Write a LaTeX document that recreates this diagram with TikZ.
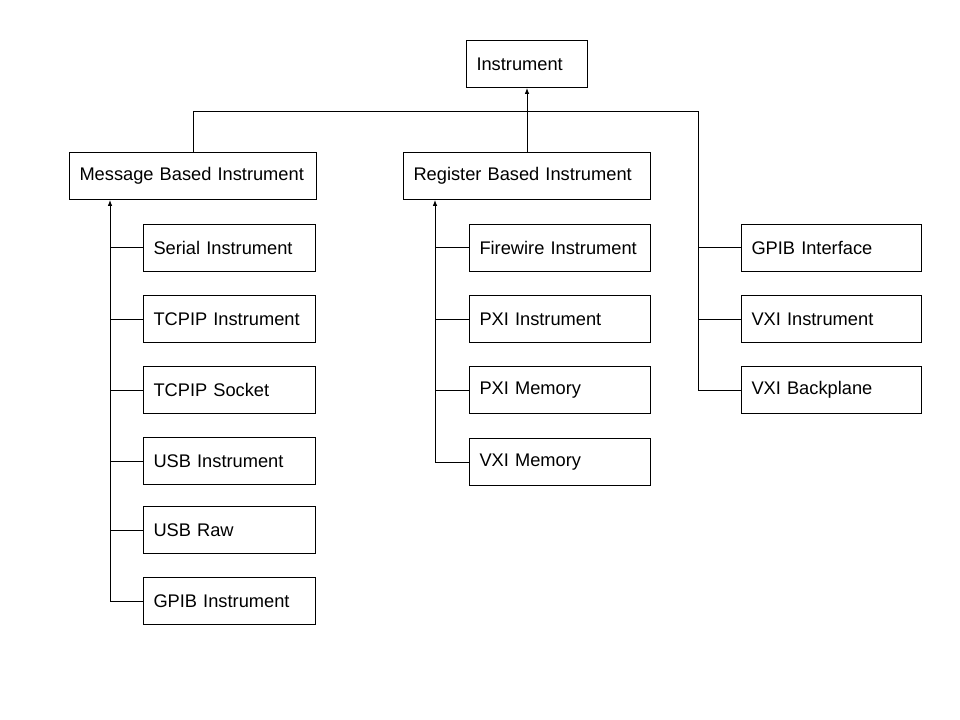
\documentclass[tikz,border=0pt]{standalone}
\usepackage{fontspec}
\setmainfont{Liberation Sans}
\usetikzlibrary{arrows.meta}

\tikzset{
  caja/.style={draw, anchor=north west, align=left, minimum height=35.25pt, inner xsep=7.5pt, inner ysep=0pt, font=\fontsize{13.7}{16}\selectfont},
  raiz/.style={caja, text width=75.75pt},
  base/.style={caja, text width=170.25pt},
  hijoa/.style={caja, text width=114pt},
  hijob/.style={caja, text width=120.75pt},
  hijoc/.style={caja, text width=120pt},
  flecha/.style={-{Latex[length=4.5pt,width=3.5pt]}},
}

\begin{document}
\begin{tikzpicture}[x=.75pt, y=-.75pt, line width=.75pt]
            \useasboundingbox (0,0) rectangle (960,720);
            \node[raiz] (inst) at (466,40) {Instrument};
            \node[base] (msg) at (69,152) {Message Based Instrument};
            \node[base] (reg) at (403,152) {Register Based Instrument};
            % columna izquierda
            \node[hijoa] (serial) at (143,224) {Serial Instrument};
            \node[hijoa] (tcpinst) at (143,295) {TCPIP Instrument};
            \node[hijoa] (tcpsock) at (143,366) {TCPIP Socket};
            \node[hijoa] (usbinst) at (143,437) {USB Instrument};
            \node[hijoa] (usbraw) at (143,506) {USB Raw};
            \node[hijoa] (gpibinst) at (143,577) {GPIB Instrument};
            % columna central
            \node[hijob] (fire) at (469,224) {Firewire Instrument};
            \node[hijob] (pxiinst) at (469,295) {PXI Instrument};
            \node[hijob] (pximem) at (469,366) {PXI Memory};
            \node[hijob] (vximem) at (469,438) {VXI Memory};
            % columna derecha
            \node[hijoc] (gpibif) at (741,224) {GPIB Interface};
            \node[hijoc] (vxiinst) at (741,295) {VXI Instrument};
            \node[hijoc] (vxiback) at (741,366) {VXI Backplane};
            % buses
            \coordinate (lbus) at (110,0);
            \coordinate (mbus) at (435,0);
            \coordinate (tbus) at (698,112);
            \draw[flecha] (reg.north) -- (inst.south);
            \draw (msg.north) |- (tbus) |- (vxiback.west);
            \draw (gpibif.west) -- (gpibif.west -| tbus);
            \draw (vxiinst.west) -- (vxiinst.west -| tbus);
            \draw[flecha] (gpibinst.west) -| (lbus |- msg.south); % izquierda
            \draw (serial.west) -- (serial.west -| lbus);
            \draw (tcpinst.west) -- (tcpinst.west -| lbus);
            \draw (tcpsock.west) -- (tcpsock.west -| lbus);
            \draw (usbinst.west) -- (usbinst.west -| lbus);
            \draw (usbraw.west) -- (usbraw.west -| lbus);
            \draw[flecha] (vximem.west) -| (mbus |- reg.south); % central
            \draw (fire.west) -- (fire.west -| mbus);
            \draw (pxiinst.west) -- (pxiinst.west -| mbus);
            \draw (pximem.west) -- (pximem.west -| mbus);
\end{tikzpicture}
\end{document}
